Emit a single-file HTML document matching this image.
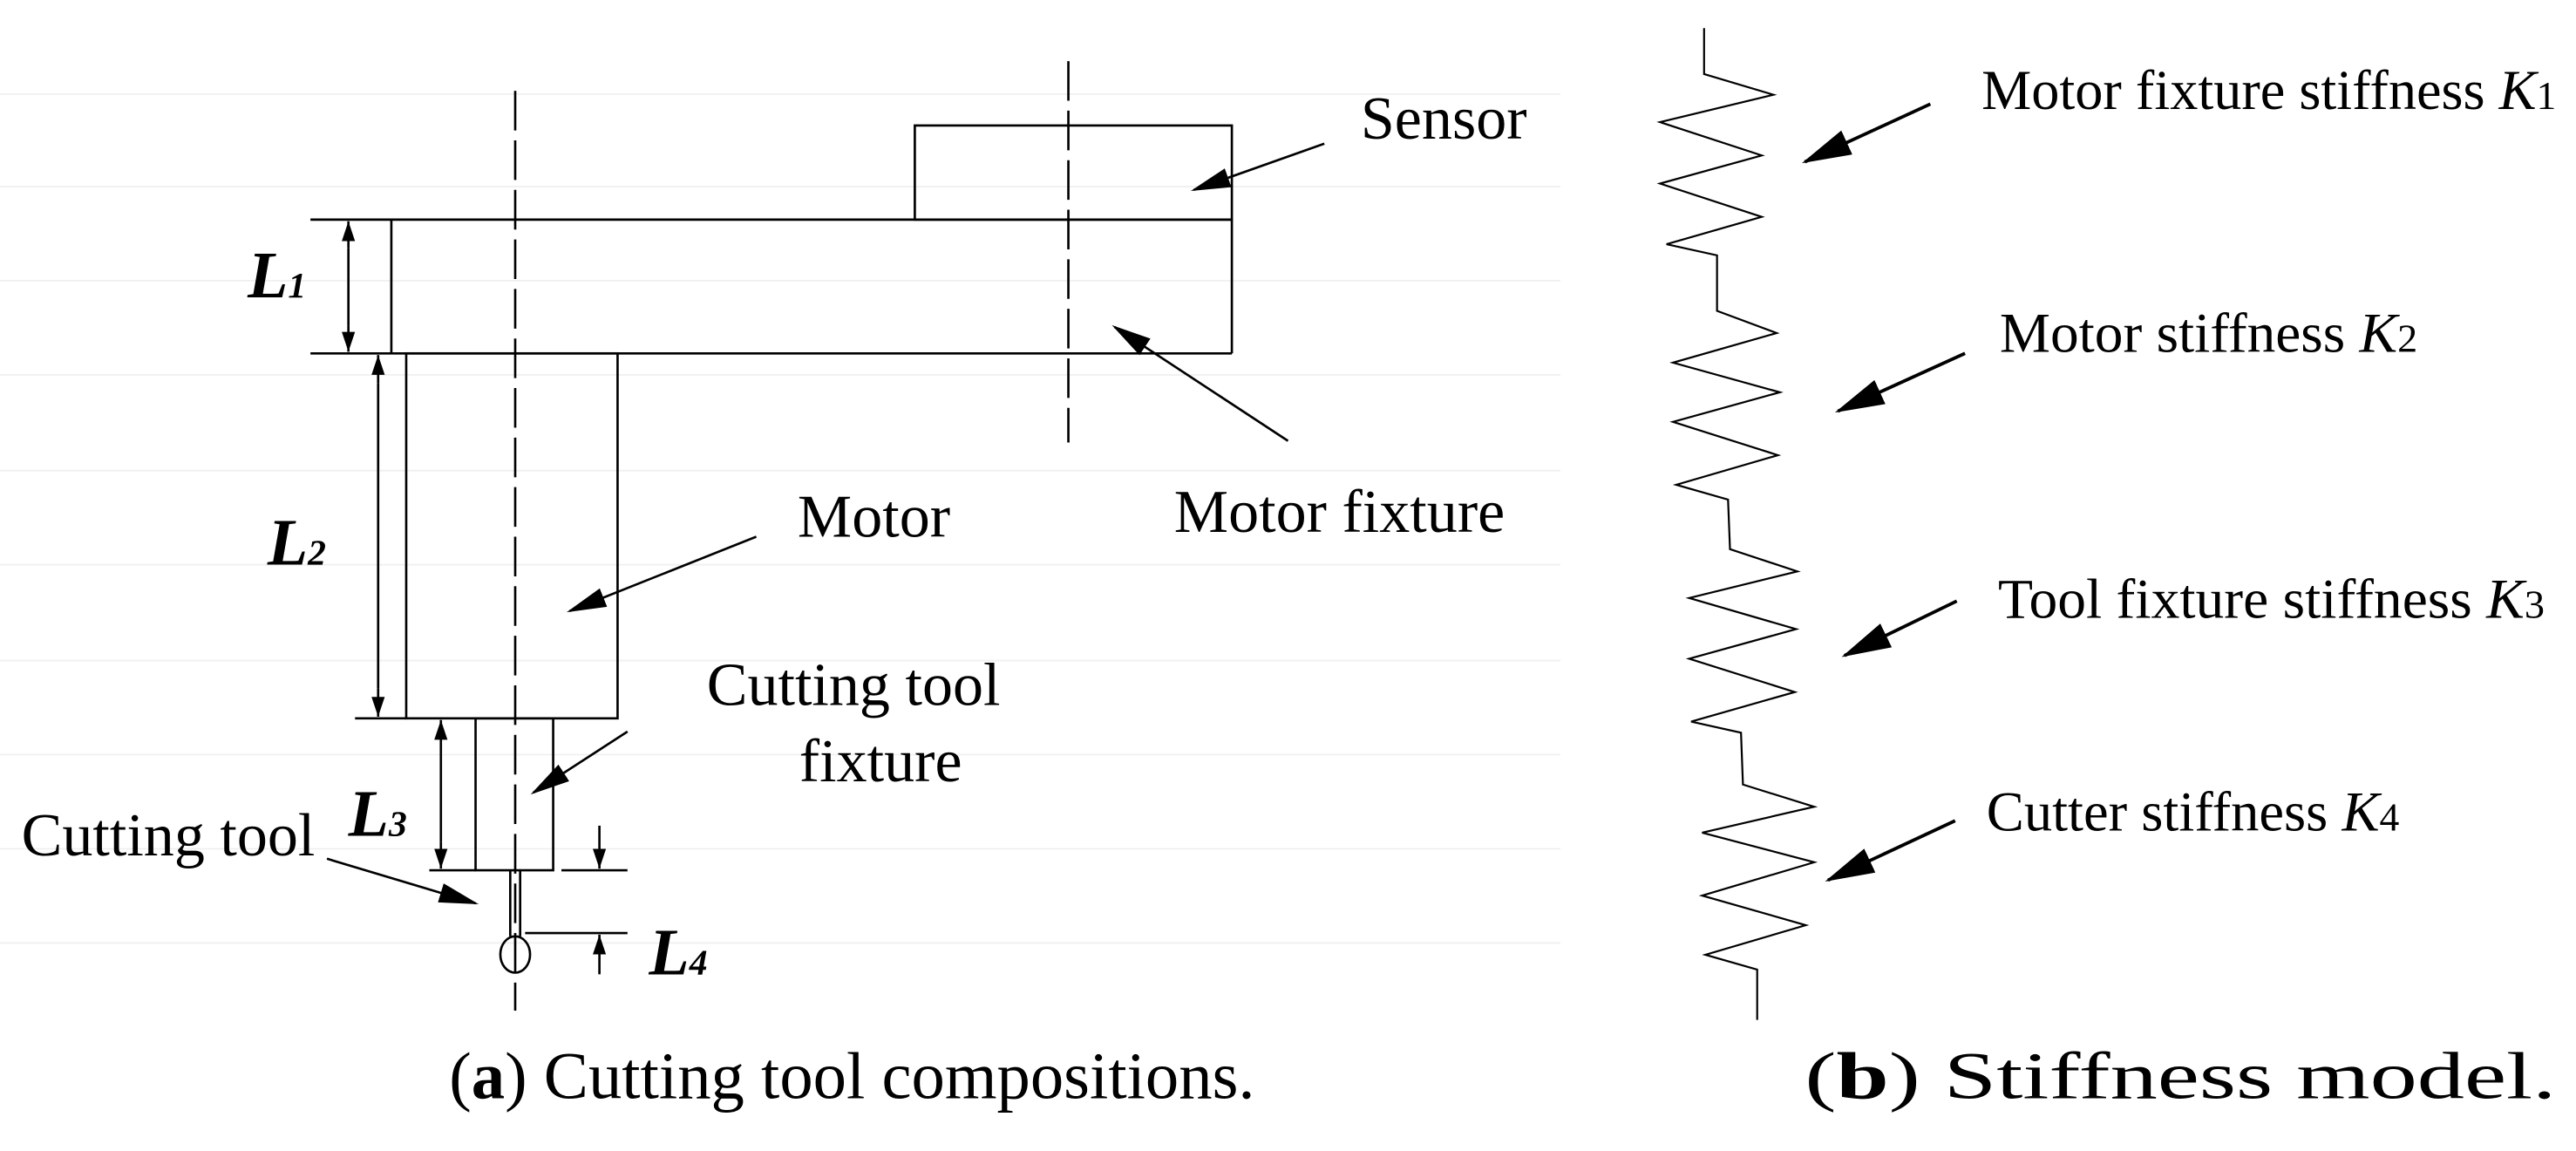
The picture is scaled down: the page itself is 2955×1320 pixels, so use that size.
<!DOCTYPE html>
<html><head><meta charset="utf-8"><style>
html,body{margin:0;padding:0;background:#fff;}
svg{display:block;}
text{font-family:"Liberation Serif",serif;fill:#000;}
</style></head><body>
<svg width="2955" height="1320" viewBox="0 0 1560 697" preserveAspectRatio="none" xmlns="http://www.w3.org/2000/svg">
<defs>
<marker id="ah" markerWidth="24" markerHeight="12" refX="22" refY="6" orient="auto" markerUnits="userSpaceOnUse">
<path d="M0,0 L24,6 L0,12 Z" fill="#000"/></marker>
<marker id="ah2" markerWidth="30" markerHeight="16" refX="28" refY="8" orient="auto" markerUnits="userSpaceOnUse">
<path d="M0,0 L30,8 L0,16 Z" fill="#000"/></marker>
<marker id="dh" markerWidth="12" markerHeight="8" refX="12" refY="4" orient="auto" markerUnits="userSpaceOnUse">
<path d="M0,0 L12,4 L0,8 Z" fill="#000"/></marker>
</defs>
<g stroke="#f0f0f0" stroke-width="1">
<line x1="0" y1="57" x2="945" y2="57"/><line x1="0" y1="113" x2="945" y2="113"/>
<line x1="0" y1="170" x2="945" y2="170"/><line x1="0" y1="227" x2="945" y2="227"/>
<line x1="0" y1="285" x2="945" y2="285"/><line x1="0" y1="342" x2="945" y2="342"/>
<line x1="0" y1="400" x2="945" y2="400"/><line x1="0" y1="457" x2="945" y2="457"/>
<line x1="0" y1="514" x2="945" y2="514"/><line x1="0" y1="571" x2="945" y2="571"/>
</g>
<g stroke="#000" stroke-width="1.4" fill="none">
<line x1="312" y1="55" x2="312" y2="612" stroke-dasharray="24 6"/>
<line x1="647" y1="37" x2="647" y2="268" stroke-dasharray="24 6"/>
<rect x="554" y="76" width="192" height="57"/>
<line x1="188" y1="133" x2="746" y2="133"/>
<line x1="188" y1="214" x2="746" y2="214"/>
<line x1="237" y1="133" x2="237" y2="214"/>
<line x1="746" y1="133" x2="746" y2="214"/>
<rect x="246" y="214" width="128" height="221"/>
<line x1="215" y1="435" x2="246" y2="435"/>
<rect x="288" y="435" width="47" height="92"/>
<line x1="260" y1="527" x2="288" y2="527"/>
<line x1="309" y1="527" x2="309" y2="567"/>
<line x1="315" y1="527" x2="315" y2="567"/>
<ellipse cx="312" cy="578" rx="9" ry="11"/>
<line x1="340" y1="527" x2="380" y2="527"/>
<line x1="318" y1="565" x2="380" y2="565"/>
<line x1="211" y1="150" x2="211" y2="134" marker-end="url(#dh)"/>
<line x1="211" y1="197" x2="211" y2="213" marker-end="url(#dh)"/>
<line x1="211" y1="150" x2="211" y2="197"/>
<line x1="229" y1="232" x2="229" y2="215" marker-end="url(#dh)"/>
<line x1="229" y1="417" x2="229" y2="434" marker-end="url(#dh)"/>
<line x1="229" y1="232" x2="229" y2="417"/>
<line x1="267" y1="452" x2="267" y2="436" marker-end="url(#dh)"/>
<line x1="267" y1="510" x2="267" y2="526" marker-end="url(#dh)"/>
<line x1="267" y1="452" x2="267" y2="510"/>
<line x1="363" y1="500" x2="363" y2="526" marker-end="url(#dh)"/>
<line x1="363" y1="590" x2="363" y2="566" marker-end="url(#dh)"/>
<line x1="802" y1="87" x2="723" y2="115" marker-end="url(#ah)"/>
<line x1="780" y1="267" x2="675" y2="198" marker-end="url(#ah)"/>
<line x1="458" y1="325" x2="345" y2="370" marker-end="url(#ah)"/>
<line x1="380" y1="443" x2="323" y2="480" marker-end="url(#ah)"/>
<line x1="198" y1="520" x2="288" y2="547" marker-end="url(#ah)"/>
</g>
<g stroke="#000" stroke-width="2" fill="none">
<line x1="1169" y1="63" x2="1093" y2="98" marker-end="url(#ah2)"/>
<line x1="1190" y1="214" x2="1113" y2="249" marker-end="url(#ah2)"/>
<line x1="1185" y1="364" x2="1117" y2="397" marker-end="url(#ah2)"/>
<line x1="1184" y1="497" x2="1107" y2="533" marker-end="url(#ah2)"/>
</g>
<g transform="translate(950.4,0) scale(0.3922,0.4482)">
<polyline fill="none" stroke="#000" stroke-width="2.2" vector-effect="non-scaling-stroke" points="208,38 208,100 315,128 140,165 297,210 140,248 297,293 150,330 228,345 228,420 320,450 160,490 325,530 160,570 322,615 165,655 245,675 248,742 352,772 185,808 350,850 185,890 348,935 188,975 265,990 268,1060 378,1090 205,1125 378,1165 205,1210 365,1250 210,1290 290,1310 290,1378"/>
</g>
<g font-size="37">
<text x="824" y="84">Sensor</text>
<text x="711" y="322">Motor fixture</text>
<text x="483" y="325">Motor</text>
<text x="428" y="427">Cutting tool</text>
<text x="484" y="473">fixture</text>
<text x="13" y="518">Cutting tool</text>
</g>
<g font-weight="bold" font-style="italic" font-size="40">
<text x="150" y="180">L<tspan font-size="22">1</tspan></text>
<text x="162" y="342">L<tspan font-size="22">2</tspan></text>
<text x="211" y="506">L<tspan font-size="22">3</tspan></text>
<text x="393" y="590">L<tspan font-size="22">4</tspan></text>
</g>
<g font-size="34">
<text x="1200" y="66" textLength="348" lengthAdjust="spacingAndGlyphs">Motor fixture stiffness <tspan font-style="italic">K</tspan><tspan font-size="24">1</tspan></text>
<text x="1211" y="213" textLength="253" lengthAdjust="spacingAndGlyphs">Motor stiffness <tspan font-style="italic">K</tspan><tspan font-size="24">2</tspan></text>
<text x="1210" y="374" textLength="331" lengthAdjust="spacingAndGlyphs">Tool fixture stiffness <tspan font-style="italic">K</tspan><tspan font-size="24">3</tspan></text>
<text x="1203" y="503" textLength="250" lengthAdjust="spacingAndGlyphs">Cutter stiffness <tspan font-style="italic">K</tspan><tspan font-size="24">4</tspan></text>
</g>
<g font-size="40">
<text x="272" y="665" textLength="488" lengthAdjust="spacingAndGlyphs">(<tspan font-weight="bold">a</tspan>) Cutting tool compositions.</text>
<text x="1093" y="665" textLength="455" lengthAdjust="spacingAndGlyphs">(<tspan font-weight="bold">b</tspan>) Stiffness model.</text>
</g>
</svg>
</body></html>
